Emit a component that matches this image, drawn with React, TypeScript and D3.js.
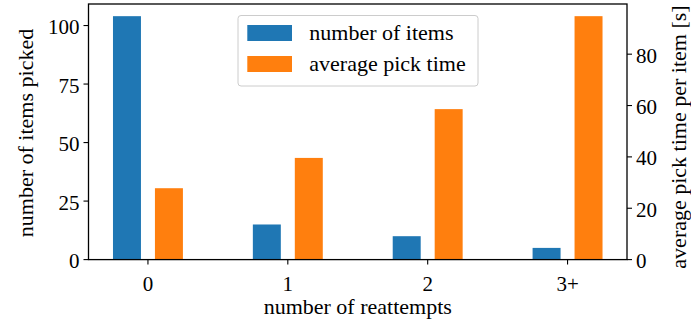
import React from "react";
import * as d3 from "d3";

const categories = ["0", "1", "2", "3+"];
const itemCounts = [104, 15, 10, 5];
const pickTimes = [27.8, 39.6, 58.6, 94.8];
const leftTicks = [0, 25, 50, 75, 100];
const rightTicks = [0, 20, 40, 60, 80];
const seriesNames = ["number of items", "average pick time"];
const colors = ["#1f77b4", "#ff7f0e"];

const W = 691;
const H = 325;
const M = { left: 88.5, right: 627, top: 4, bottom: 259.6 };
const FONT = "'Liberation Serif', 'Times New Roman', serif";
const TICK_FS = 21;
const LABEL_FS = 22;

export default function App() {
  const n = categories.length;
  const x = d3.scaleLinear().domain([-0.425, n - 1 + 0.425]).range([M.left, M.right]);
  const yL = d3.scaleLinear().domain([0, (d3.max(itemCounts) as number) * 1.05]).range([M.bottom, M.top]);
  const yR = d3.scaleLinear().domain([0, (d3.max(pickTimes) as number) * 1.05]).range([M.bottom, M.top]);
  const bw = 0.2;
  const off = 0.15;
  const pxW = x(bw) - x(0);

  return (
    <svg width={W} height={H} style={{ position: "absolute", left: 0, top: 0, background: "#fff" }} fontFamily={FONT}>
      <rect x={0} y={0} width={W} height={H} fill="#fff" />
      {itemCounts.map((v, i) => (
        <rect key={"b" + i} x={x(i - off) - pxW / 2} width={pxW} y={yL(v)} height={yL(0) - yL(v)} fill={colors[0]} />
      ))}
      {pickTimes.map((v, i) => (
        <rect key={"o" + i} x={x(i + off) - pxW / 2} width={pxW} y={yR(v)} height={yR(0) - yR(v)} fill={colors[1]} />
      ))}
      <rect x={M.left} y={M.top} width={M.right - M.left} height={M.bottom - M.top} fill="none" stroke="#000" strokeWidth={1.3} />
      {categories.map((c, i) => (
        <g key={"xt" + i}>
          <line x1={x(i)} x2={x(i)} y1={M.bottom} y2={M.bottom + 5} stroke="#000" strokeWidth={1.1} />
          <text x={x(i)} y={290.5} textAnchor="middle" fontSize={TICK_FS}>{c}</text>
        </g>
      ))}
      {leftTicks.map((t) => (
        <g key={"lt" + t}>
          <line x1={M.left - 5} x2={M.left} y1={yL(t)} y2={yL(t)} stroke="#000" strokeWidth={1.1} />
          <text x={M.left - 9} y={yL(t) + 8.6} textAnchor="end" fontSize={TICK_FS}>{t}</text>
        </g>
      ))}
      {rightTicks.map((t) => (
        <g key={"rt" + t}>
          <line x1={M.right} x2={M.right + 5} y1={yR(t)} y2={yR(t)} stroke="#000" strokeWidth={1.1} />
          <text x={M.right + 9} y={yR(t) + 8.6} textAnchor="start" fontSize={TICK_FS}>{t}</text>
        </g>
      ))}
      <text x={(M.left + M.right) / 2} y={313.5} textAnchor="middle" fontSize={LABEL_FS}>number of reattempts</text>
      <text transform={`translate(33,133) rotate(-90)`} textAnchor="middle" fontSize={LABEL_FS}>number of items picked</text>
      <text transform={`translate(686,137) rotate(-90)`} textAnchor="middle" fontSize={LABEL_FS}>average pick time per item [s]</text>
      <rect x={238} y={15.5} width={240} height={70.5} rx={3} fill="#fff" fillOpacity={0.8} stroke="#ccc" strokeWidth={1} />
      {seriesNames.map((s, i) => (
        <g key={"lg" + i}>
          <rect x={247.3} y={25 + i * 31} width={44.7} height={16} fill={colors[i]} />
          <text x={309.3} y={39.5 + i * 31} fontSize={LABEL_FS}>{s}</text>
        </g>
      ))}
    </svg>
  );
}
